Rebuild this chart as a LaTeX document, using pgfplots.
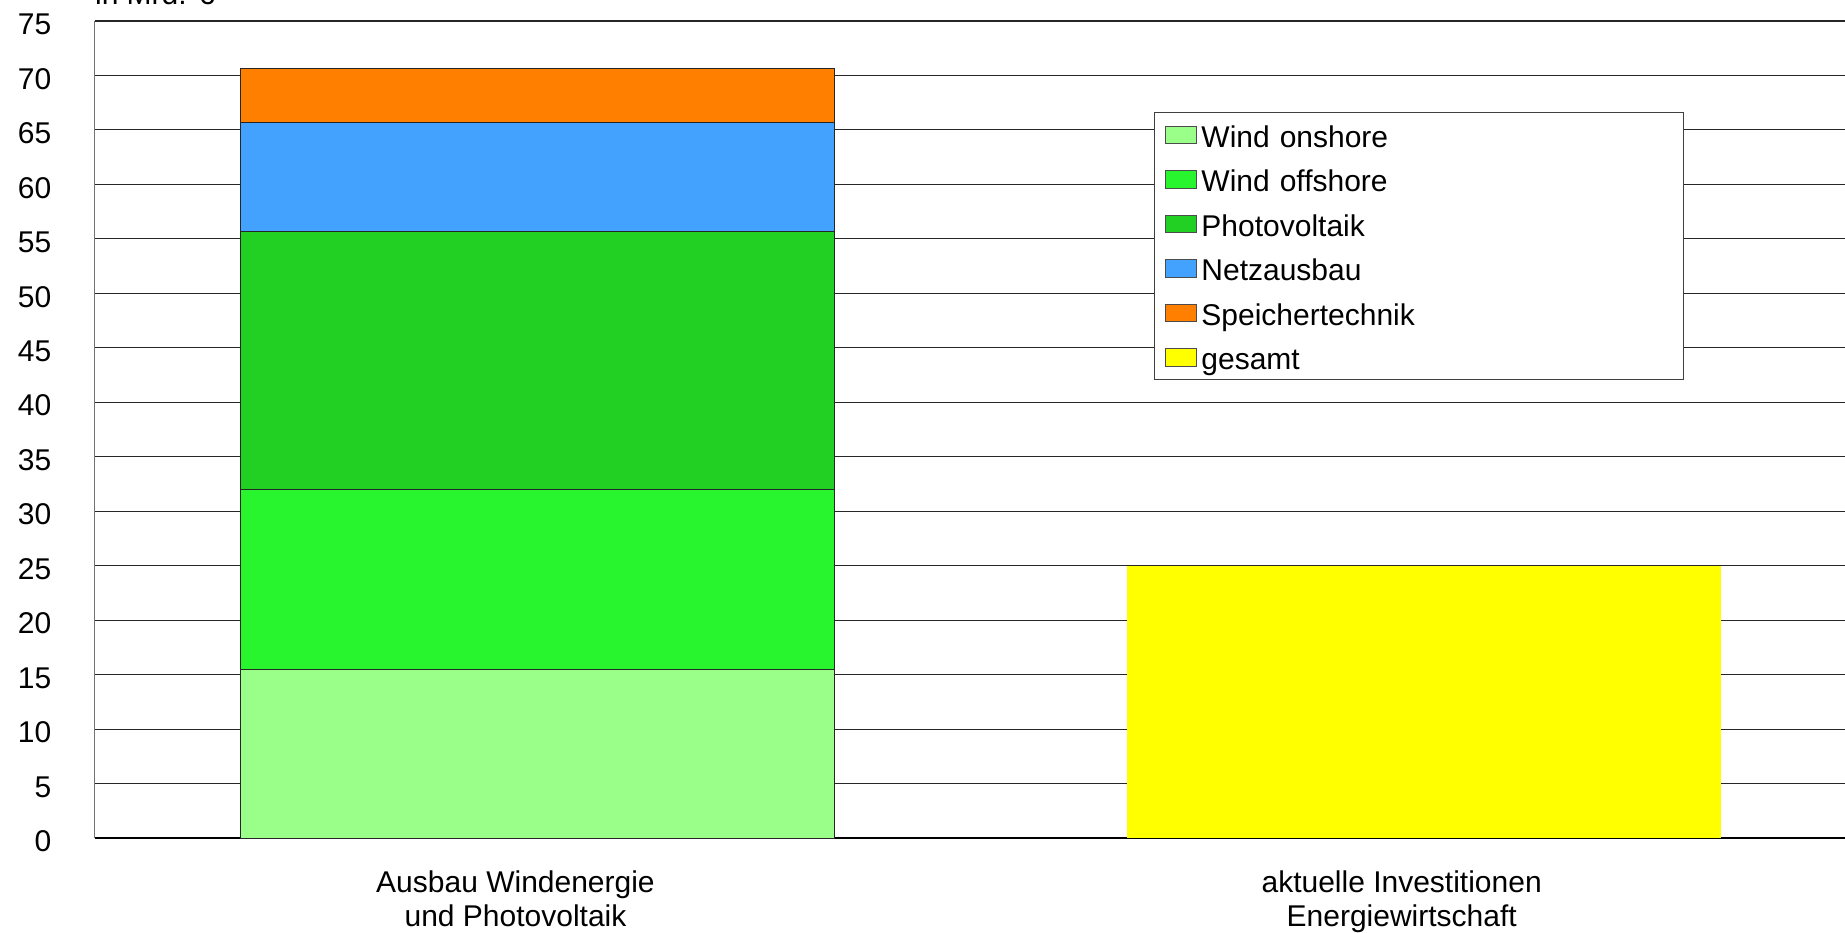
\documentclass[border=0pt]{standalone}
\usepackage{fontspec}
\setmainfont{Liberation Sans}
\usepackage{pgfplots}
\pgfplotsset{compat=1.18}

\definecolor{onshore}{RGB}{153,255,136}
\definecolor{offshore}{RGB}{40,245,46}
\definecolor{pv}{RGB}{34,208,36}
\definecolor{netz}{RGB}{68,162,255}
\definecolor{speicher}{RGB}{255,128,0}
\definecolor{gesamt}{RGB}{255,255,0}

\newcommand{\chartfont}{\fontsize{15}{17.25}\selectfont}

\begin{document}
\begin{tikzpicture}
\begin{axis}[
  name=ax,
  scale only axis,
  width=875.15pt, height=408.5pt,
  ybar stacked,
  bar width=0.67,
  xmin=-0.5, xmax=1.4751,
  ymin=0, ymax=75,
  ytick={0,5,...,75},
  xtick={0,1},
  xticklabels={{Ausbau Windenergie\\und Photovoltaik},{aktuelle Investitionen\\Energiewirtschaft}},
  axis lines*=left,
  x axis line style={black, line width=0.6pt},
  y axis line style={black!55, line width=0.6pt},
  major tick length=0pt,
  ymajorgrids,
  major grid style={black!85, line width=0.55pt},
  font=\chartfont,
  /pgf/number format/assume math mode=true,
  tick label style={font=\chartfont},
  yticklabel style={anchor=east, inner sep=0pt, xshift=-21.5pt, yshift=-1.7pt},
  xticklabel style={align=center, anchor=north, inner sep=0pt, xshift=-11.15pt, yshift=-15.95pt},
  legend cell align=left,
  legend image code/.code={%
    \draw[#1,/tikz/.cd,draw=black!70,line width=0.5pt] (0pt,-4.4pt) rectangle (15.5pt,4.4pt);},
  legend style={
    at={(0.6054,0.8882)}, anchor=north west,
    draw=black!75, line width=0.5pt, fill=white,
    font=\chartfont,
    inner xsep=5pt, inner ysep=2pt,
    row sep=4.15pt, column sep=0pt,
    nodes={inner xsep=2.3pt, inner ysep=0pt, text height=15.2pt, text depth=2.9pt, text width=233.6pt},
  },
]
% stacked investment components for the expansion scenario, then the current total
\addplot[fill=onshore,  draw=black!85, line width=0.5pt] coordinates {(0,15.5) (1,0)};
\addplot[fill=offshore, draw=black!85, line width=0.5pt] coordinates {(0,16.5) (1,0)};
\addplot[fill=pv,       draw=black!85, line width=0.5pt] coordinates {(0,23.65) (1,0)};
\addplot[fill=netz,     draw=black!85, line width=0.5pt] coordinates {(0,10.0) (1,0)};
\addplot[fill=speicher, draw=black!85, line width=0.5pt] coordinates {(0,5.0) (1,0)};
\addplot[fill=gesamt,   draw=none] coordinates {(0,0) (1,25)};
\legend{Wind onshore, Wind offshore, Photovoltaik, Netzausbau, Speichertechnik, gesamt}
\end{axis}
\node[anchor=base west, inner sep=0pt, font=\chartfont] at ([yshift=8pt]ax.north west) {in Mrd. €};
\pgfresetboundingbox
\path[use as bounding box] ([shift={(-47.35pt,-47pt)}]ax.south west) rectangle ([shift={(0pt,10.5pt)}]ax.north east);
\end{tikzpicture}
\end{document}
